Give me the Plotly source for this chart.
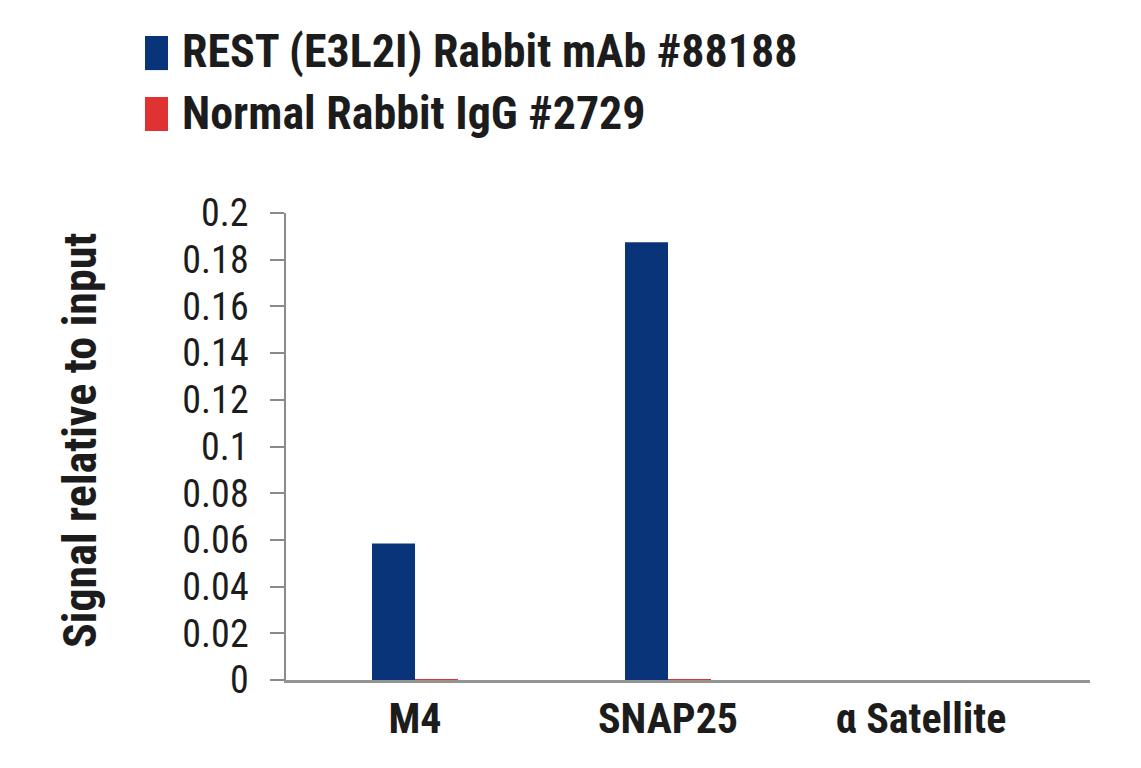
import plotly.graph_objects as go

categories = ["M4", "SNAP25", "α Satellite"]
rest_values = [0.0585, 0.1875, 0.0]
igg_values = [0.0004, 0.0003, 0.0]
series_names = ["REST (E3L2I) Rabbit mAb #88188", "Normal Rabbit IgG #2729"]
series_colors = ["#0a3479", "#e03232"]
y_ticks = [0, 0.02, 0.04, 0.06, 0.08, 0.1, 0.12, 0.14, 0.16, 0.18, 0.2]
y_tick_labels = ["0", "0.02", "0.04", "0.06", "0.08", "0.1", "0.12", "0.14", "0.16", "0.18", "0.2"]
y_title = "Signal relative to input"

FONT = "Roboto Condensed, Liberation Sans Narrow, sans-serif"
TXT = "#1c1c1c"

fig = go.Figure()
for name, vals, col in zip(series_names, [rest_values, igg_values], series_colors):
    fig.add_trace(go.Bar(x=categories, y=vals, name=name, marker_color=col,
                         marker_line_width=0, showlegend=False))

# custom legend (tall rectangles like the reference)
legend_rows = [(1.379, 1.306, 1.3470), (1.2484, 1.1756, 1.2150)]
for (y1, y0, yc), name, col in zip(legend_rows, series_names, series_colors):
    fig.add_shape(type="rect", xref="paper", yref="paper",
                  x0=-0.1754, x1=-0.1468, y0=y0, y1=y1,
                  fillcolor=col, line_width=0)
    fig.add_annotation(text="<b>" + name + "</b>", xref="paper", yref="paper",
                       x=-0.1320, y=yc, xanchor="left", yanchor="middle",
                       showarrow=False, font=dict(family=FONT, size=46, color=TXT))

# y-axis title
fig.add_annotation(text="<b>" + y_title + "</b>", xref="paper", yref="paper",
                   x=-0.2562, y=0.5118, xanchor="center", yanchor="middle",
                   textangle=-90, showarrow=False,
                   font=dict(family=FONT, size=46, color=TXT))

fig.update_layout(
    width=1141, height=768,
    margin=dict(l=278, r=59, t=205, b=96),
    paper_bgcolor="white", plot_bgcolor="white",
    barmode="group", bargap=0.66, bargroupgap=0,
    font=dict(family=FONT, color=TXT),
)
fig.update_layout(
    yaxis=dict(range=[0, 0.2], tickvals=y_ticks, ticktext=y_tick_labels,
               showline=True, linecolor="#8a8a8a", linewidth=1.5,
               ticks="outside", ticklen=14, tickcolor="#8a8a8a", tickwidth=1.5,
               ticklabelstandoff=14,
               showgrid=False, zeroline=False, automargin=False,
               tickfont=dict(family=FONT, size=38, color=TXT)),
    xaxis=dict(type="category", range=[-0.51, 2.668],
               showline=True, linecolor="#939393", linewidth=2.5,
               ticks="", showgrid=False, automargin=False,
               ticklabelstandoff=0,
               tickvals=categories, ticktext=["<b>" + c + "</b>" for c in categories],
               tickfont=dict(family=FONT, size=42, color=TXT)),
)

fig.write_html("out.html")
